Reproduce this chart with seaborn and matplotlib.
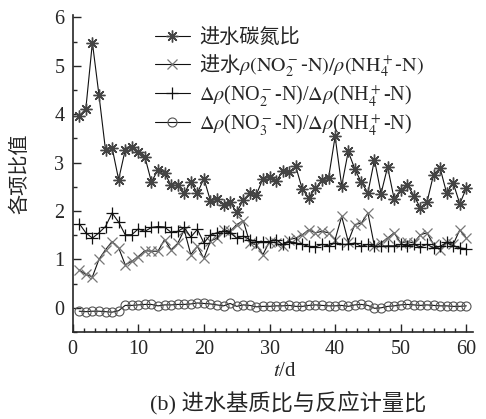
import matplotlib
matplotlib.use("Agg")
import matplotlib.pyplot as plt
from matplotlib.ticker import MultipleLocator, AutoMinorLocator
import seaborn as sns
import numpy as np

days = list(range(1, 61))

cn_ratio = [3.97, 4.11, 5.48, 4.40, 3.26, 3.31, 2.65, 3.26, 3.33, 3.21,
            3.12, 2.60, 2.85, 2.79, 2.53, 2.53, 2.37, 2.60, 2.37, 2.67,
            2.21, 2.25, 2.12, 2.18, 1.97, 2.23, 2.37, 2.34, 2.67, 2.70,
            2.61, 2.82, 2.80, 2.92, 2.45, 2.27, 2.47, 2.64, 2.68, 3.54,
            2.52, 3.23, 2.87, 2.59, 2.38, 3.06, 2.36, 2.91, 2.25, 2.44,
            2.54, 2.32, 2.06, 2.18, 2.75, 2.89, 2.37, 2.58, 2.15, 2.47]

no2_nh4_in = [0.78, 0.69, 0.64, 1.00, 1.20, 1.37, 1.24, 0.89, 0.96, 1.06,
              1.18, 1.17, 1.17, 1.41, 1.20, 1.33, 1.61, 1.10, 1.27, 1.02,
              1.38, 1.44, 1.61, 1.58, 1.72, 1.80, 1.34, 1.30, 1.10, 1.37,
              1.34, 1.27, 1.41, 1.44, 1.51, 1.61, 1.55, 1.58, 1.55, 1.41,
              1.89, 1.37, 1.72, 1.75, 1.96, 1.27, 1.34, 1.44, 1.55, 1.34,
              1.37, 1.34, 1.51, 1.55, 1.31, 1.20, 1.37, 1.31, 1.61, 1.44]

d_no2_nh4 = [1.74, 1.55, 1.44, 1.55, 1.68, 1.96, 1.77, 1.51, 1.51, 1.63,
             1.58, 1.66, 1.68, 1.67, 1.56, 1.58, 1.66, 1.46, 1.62, 1.34,
             1.51, 1.55, 1.58, 1.55, 1.44, 1.48, 1.41, 1.37, 1.37, 1.37,
             1.41, 1.31, 1.37, 1.34, 1.31, 1.27, 1.26, 1.31, 1.28, 1.34,
             1.31, 1.31, 1.34, 1.27, 1.31, 1.27, 1.27, 1.28, 1.28, 1.31,
             1.28, 1.31, 1.26, 1.31, 1.24, 1.27, 1.35, 1.28, 1.24, 1.22]

d_no3_nh4 = [-0.07, -0.08, -0.07, -0.07, -0.08, -0.09, -0.06, 0.05, 0.05, 0.06,
             0.07, 0.07, 0.04, 0.06, 0.06, 0.07, 0.07, 0.08, 0.10, 0.09,
             0.08, 0.06, 0.04, 0.09, 0.03, 0.06, 0.05, 0.02, 0.03, 0.03,
             0.04, 0.04, 0.05, 0.03, 0.03, 0.05, 0.06, 0.05, 0.04, 0.04,
             0.05, 0.03, 0.06, 0.07, 0.05, -0.01, 0.00, 0.03, 0.04, 0.06,
             0.07, 0.06, 0.05, 0.06, 0.05, 0.04, 0.04, 0.03, 0.03, 0.04]

labels = ["进水碳氮比",
          r"进水$\rho(\mathrm{NO}_2^-$-$\mathrm{N})/\rho(\mathrm{NH}_4^+$-$\mathrm{N})$",
          r"$\Delta\rho$(NO$_2^-$-N)/$\Delta\rho$(NH$_4^+$-N)",
          r"$\Delta\rho$(NO$_3^-$-N)/$\Delta\rho$(NH$_4^+$-N)"]

xlabel = r"$t$/d"
ylabel = "各项比值"
caption = "(b) 进水基质比与反应计量比"

sns.set_style("ticks")
plt.rcParams["font.family"] = ["Liberation Serif", "Noto Sans CJK SC", "DejaVu Sans"]
plt.rcParams["mathtext.fontset"] = "stix"

fig = plt.figure(figsize=(4.86, 4.19), dpi=100)
ax = fig.add_axes([0.1496, 0.2076, 0.8234, 0.7566])

line_kw = dict(color="#111111", linewidth=0.8)
sns.lineplot(x=days, y=cn_ratio, ax=ax, marker=(8, 2, 0), markersize=8.5,
             markeredgecolor="#444444", markeredgewidth=1.0, label=labels[0], **line_kw)
sns.lineplot(x=days, y=no2_nh4_in, ax=ax, marker="x", markersize=7.5,
             markeredgecolor="#777777", markeredgewidth=0.9, label=labels[1], **line_kw)
sns.lineplot(x=days, y=d_no2_nh4, ax=ax, marker="+", markersize=8,
             markeredgecolor="#111111", markeredgewidth=0.9, label=labels[2], **line_kw)
sns.lineplot(x=days, y=d_no3_nh4, ax=ax, marker="o", markersize=6.5,
             markerfacecolor="none", markeredgecolor="#555555", markeredgewidth=0.8,
             label=labels[3], **line_kw)

ax.set_xlim(0, 61)
ax.set_ylim(-0.5, 6.05)
ax.xaxis.set_major_locator(MultipleLocator(10))
ax.xaxis.set_minor_locator(AutoMinorLocator(6))
ax.yaxis.set_major_locator(MultipleLocator(1))
ax.yaxis.set_minor_locator(AutoMinorLocator(2))
ax.tick_params(axis="both", which="major", direction="in", length=6, width=1,
               labelsize=14.5, pad=6)
ax.tick_params(axis="both", which="minor", direction="in", length=3, width=1)
for s in ["top", "right"]:
    ax.spines[s].set_visible(False)
for s in ["left", "bottom"]:
    ax.spines[s].set_linewidth(1.2)

ax.set_xlabel(xlabel, fontsize=15)
ax.xaxis.set_label_coords(0.53, -0.095)
ax.set_ylabel(ylabel, fontsize=14.5)
ax.yaxis.set_label_coords(-0.105, 0.5)

leg = ax.legend(loc="upper left", bbox_to_anchor=(0.205, 0.955), frameon=False,
                fontsize=14.5, handlelength=1.75, handletextpad=0.45,
                borderaxespad=0, borderpad=0, labelspacing=0.2)
leg.get_texts()[1].set_fontfamily("Noto Sans CJK SC")

fig.text(0.593, 0.04, caption, ha="center", va="center", fontsize=16)

fig.savefig("out.png", dpi=100)
